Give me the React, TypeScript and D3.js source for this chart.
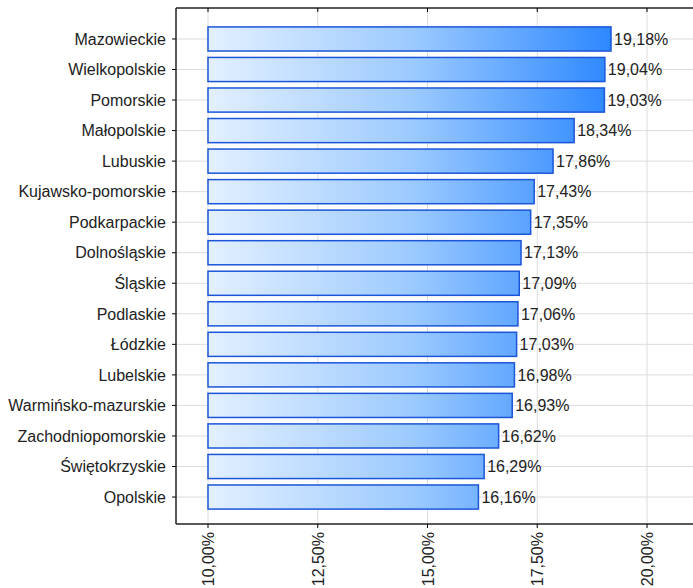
import React from "react";
import * as d3 from "d3";

const categories = [
  "Mazowieckie", "Wielkopolskie", "Pomorskie", "Małopolskie", "Lubuskie",
  "Kujawsko-pomorskie", "Podkarpackie", "Dolnośląskie", "Śląskie", "Podlaskie",
  "Łódzkie", "Lubelskie", "Warmińsko-mazurskie", "Zachodniopomorskie",
  "Świętokrzyskie", "Opolskie",
];
const values = [19.18, 19.04, 19.03, 18.34, 17.86, 17.43, 17.35, 17.13, 17.09, 17.06, 17.03, 16.98, 16.93, 16.62, 16.29, 16.16];
const ticks = [10, 12.5, 15, 17.5, 20];

const fmt = (v: number) => v.toFixed(2).replace(".", ",") + "%";

export default function App() {
  const W = 693, H = 588;
  const left = 176, top = 8, bottom = 524, right = 700;
  const x = d3.scaleLinear().domain([10, 20]).range([208, 647]);
  const y = d3.scaleBand<string>().domain(categories).range([23.7, 512.3]).paddingInner(0.21).paddingOuter(0.105);
  const font = "'Liberation Sans', Arial, sans-serif";
  const fs = 16;
  return (
    <svg width={W} height={H} style={{ position: "absolute", left: 0, top: 0, background: "#fff" }}>
      <defs>
        <linearGradient id="g" gradientUnits="userSpaceOnUse" x1={x(10)} x2={x(19.3)} y1={0} y2={0}>
          <stop offset="0" stopColor="#e3f0ff" />
          <stop offset="0.5" stopColor="#9ccaff" />
          <stop offset="1" stopColor="#2a86ff" />
        </linearGradient>
      </defs>
      {ticks.map((t) => (
        <line key={"gv" + t} x1={x(t)} x2={x(t)} y1={top} y2={bottom} stroke="#dcdcdc" strokeWidth={1} />
      ))}
      {categories.map((c) => {
        const cy = (y(c) as number) + y.bandwidth() / 2;
        return <line key={"gh" + c} x1={left} x2={right} y1={cy} y2={cy} stroke="#dcdcdc" strokeWidth={1} />;
      })}
      {categories.map((c, i) => (
        <rect key={"b" + c} x={x(10)} y={y(c)} width={x(values[i]) - x(10)} height={y.bandwidth()}
          fill="url(#g)" stroke="#1b55d8" strokeWidth={1.5} />
      ))}
      {categories.map((c, i) => {
        const cy = (y(c) as number) + y.bandwidth() / 2;
        return (
          <g key={"l" + c}>
            <text x={x(values[i]) + 3} y={cy} dy="0.36em" fontFamily={font} fontSize={fs} fill="#222">{fmt(values[i])}</text>
            <text x={166} y={cy} dy="0.36em" textAnchor="end" fontFamily={font} fontSize={fs} fill="#222">{c}</text>
            <line x1={left - 4} x2={left} y1={cy} y2={cy} stroke="#000" />
          </g>
        );
      })}
      <line x1={left} x2={right} y1={top} y2={top} stroke="#222" strokeWidth={1.5} />
      <line x1={left} x2={right} y1={bottom} y2={bottom} stroke="#222" strokeWidth={1.5} />
      <line x1={left} x2={left} y1={top} y2={bottom} stroke="#222" strokeWidth={1.5} />
      {ticks.map((t) => (
        <g key={"t" + t}>
          <line x1={x(t)} x2={x(t)} y1={top} y2={top + 4} stroke="#000" />
          <line x1={x(t)} x2={x(t)} y1={bottom} y2={bottom + 4} stroke="#000" />
          <text transform={`translate(${x(t) + 6},${bottom + 8}) rotate(-90)`} textAnchor="end"
            fontFamily={font} fontSize={fs} fill="#222">{fmt(t)}</text>
        </g>
      ))}
    </svg>
  );
}
